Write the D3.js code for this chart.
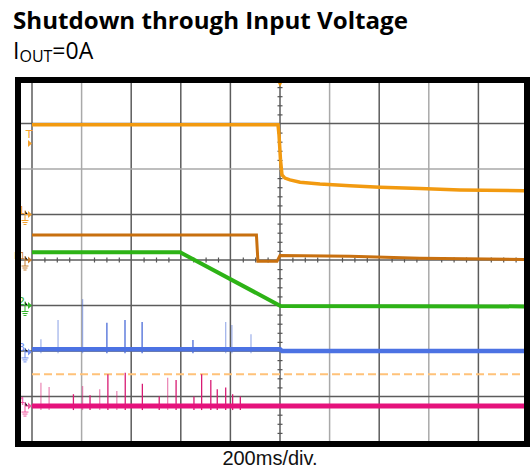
<!DOCTYPE html>
<html lang="en">
  <head>
    <meta charset="UTF-8" />
    <title>Shutdown through Input Voltage</title>
    <style>
      body { margin: 0; background: #fff; }
    </style>
  </head>
  <body>
    <div class="chart"></div>
    <script src="https://d3js.org/d3.v7.min.js"></script>
    <script>
      // data: time in ms (200ms/div), level in divisions from screen centre
      const gridTimes = [0, 200, 400, 600, 800, 1000, 1200, 1400, 1600, 1800, 2000];
      const gridLevels = [-4, -3, -2, -1, 0, 1, 2, 3, 4];
      const timeLabel = "200ms/div.";

      const vinTrace = [[0, 2.97], [992, 2.97], [996, 2.75], [1002, 2.2], [1008, 1.87], [1020, 1.8], [1040, 1.76], [1081, 1.71], [1161, 1.67], [1282, 1.63], [1403, 1.6], [1564, 1.57], [1726, 1.54], [2000, 1.52]];
      const ch1Trace = [[0, 0.55], [905, 0.55], [911, -0.03], [988, -0.03], [1000, 0.1], [1282, 0.08], [1564, 0.04], [2000, 0.01]];
      const ch2Trace = [[0, 0.17], [597, 0.17], [1002, -1.01], [2000, -1.02]];
      const ch3Trace = [[0, -1.96], [1000, -1.96], [1008, -2.0], [2000, -2.0]];
      const ch4Trace = [[0, -3.21], [2000, -3.21]];
      const trigLevel = -2.51;

      // spikes: [time, peak level, faint?]
      const ch3Spikes = [[36, -1.74, 1], [105, -1.32, 1], [204, -0.86, 1], [302, -1.38, 0], [375, -1.32, 0], [444, -1.36, 0], [649, -1.76, 0], [781, -1.36, 1], [806, -1.43, 1], [883, -1.63, 1]];
      const ch4Spikes = [[36, -2.7, 1], [69, -2.79, 1], [167, -2.95, 0], [204, -2.77, 1], [234, -2.97, 0], [273, -2.84, 1], [306, -2.51, 0], [342, -2.88, 1], [376, -2.48, 0], [445, -2.72, 0], [513, -3.0, 0], [547, -2.59, 1], [581, -2.64, 0], [653, -3.0, 0], [684, -2.51, 0], [721, -2.64, 0], [747, -2.84, 0], [781, -2.8, 0], [809, -2.95, 0], [840, -3.0, 0]];

      // channel markers on the left edge: [label, level, colour, ground]
      const markers = [["T", 2.56, "#f5a02a", false], ["1", 1.0, "#f0a030", true], ["R1", 0, "#c98032", true], ["2", -1.0, "#33b52a", true], ["3", -2.02, "#6f8ef0", true], ["4", -3.21, "#f0579f", true]];

      const W = 530, H = 472;
      const svg = d3.select(".chart").append("svg").attr("width", W).attr("height", H);

      // titles
      svg.append("text")
        .attr("x", 13).attr("y", 29)
        .attr("font-family", "Open Sans, sans-serif")
        .attr("font-weight", "bold")
        .attr("font-size", 23)
        .attr("textLength", 395)
        .attr("lengthAdjust", "spacingAndGlyphs")
        .attr("fill", "#000")
        .text("Shutdown through Input Voltage");

      const sub = svg.append("text")
        .attr("x", 13).attr("y", 59)
        .attr("font-family", "Open Sans, sans-serif")
        .attr("font-size", 23)
        .attr("fill", "#000");
      sub.append("tspan").text("I");
      sub.append("tspan").attr("font-size", 16).attr("dy", 3).text("OUT");
      sub.append("tspan").attr("dy", -3).text("=0A");

      // scope screen
      const x = d3.scaleLinear().domain([0, 2000]).range([32, 528]);
      const y = d3.scaleLinear().domain([-4, 4]).range([442, 78]);

      svg.append("clipPath").attr("id", "screen")
        .append("rect").attr("x", 21).attr("y", 83).attr("width", 503).attr("height", 358);

      const scr = svg.append("g").attr("clip-path", "url(#screen)");

      const lightT = [200, 1200, 1600];
      scr.selectAll(".vgrid").data(gridTimes).join("line")
        .attr("x1", d => x(d)).attr("x2", d => x(d))
        .attr("y1", 78).attr("y2", 442)
        .attr("stroke", d => lightT.includes(d) ? "#a9a9a9" : "#5c5c5c")
        .attr("stroke-width", 1.5);
      scr.selectAll(".hgrid").data(gridLevels).join("line")
        .attr("x1", 21).attr("x2", 528)
        .attr("y1", d => y(d)).attr("y2", d => y(d))
        .attr("stroke", d => d === 2 ? "#a9a9a9" : "#5c5c5c")
        .attr("stroke-width", 1.5);

      // minor ticks on centre lines
      const minorT = d3.range(0, 2001, 50).filter(d => d % 200 !== 0);
      const minorL = d3.range(-4, 4.001, 0.2).filter(d => Math.abs(d - Math.round(d)) > 0.01);
      scr.append("g")
        .attr("transform", `translate(0,${y(0) - 2.5})`)
        .call(d3.axisBottom(x).tickValues(minorT).tickSize(5).tickFormat(""))
        .call(g => g.select(".domain").remove())
        .selectAll("line").attr("stroke", "#555").attr("stroke-width", 1.2);
      scr.append("g")
        .attr("transform", `translate(${x(1000) + 2.5},0)`)
        .call(d3.axisLeft(y).tickValues(minorL).tickSize(5).tickFormat(""))
        .call(g => g.select(".domain").remove())
        .selectAll("line").attr("stroke", "#555").attr("stroke-width", 1.2);

      // trigger level
      scr.append("line")
        .attr("x1", x(0)).attr("x2", 528)
        .attr("y1", y(trigLevel)).attr("y2", y(trigLevel))
        .attr("stroke", "#ffc27a").attr("stroke-width", 2)
        .attr("stroke-dasharray", "8,4");

      const line = d3.line().x(d => x(d[0])).y(d => y(d[1]));

      function spikes(data, base, colour) {
        scr.selectAll(null).data(data).join("line")
          .attr("x1", d => x(d[0])).attr("x2", d => x(d[0]))
          .attr("y1", d => y(d[1])).attr("y2", y(base) + 4)
          .attr("stroke", colour)
          .attr("stroke-opacity", d => d[2] ? 0.5 : 1)
          .attr("stroke-width", 1.3);
      }

      spikes(ch4Spikes, ch4Trace[0][1], "#d81b73");
      scr.append("path").datum(ch4Trace).attr("d", line)
        .attr("fill", "none").attr("stroke", "#e5127c").attr("stroke-width", 5);

      spikes(ch3Spikes, ch3Trace[0][1], "#4a6bd8");
      scr.append("path").datum(ch3Trace).attr("d", line)
        .attr("fill", "none").attr("stroke", "#4c72e3").attr("stroke-width", 4.5);

      scr.append("path").datum(ch2Trace).attr("d", line)
        .attr("fill", "none").attr("stroke", "#2db316").attr("stroke-width", 4);

      scr.append("path").datum(ch1Trace).attr("d", line)
        .attr("fill", "none").attr("stroke", "#c8700f").attr("stroke-width", 3);

      scr.append("path").datum(vinTrace).attr("d", line)
        .attr("fill", "none").attr("stroke", "#f29a10").attr("stroke-width", 3.5);

      // trigger position mark at top
      scr.append("path")
        .attr("d", `M${x(1000) - 2},83 L${x(1000) + 2},83 L${x(1000)},87 Z`)
        .attr("fill", "#f29a10");

      // left markers
      const mk = svg.append("g").selectAll("g").data(markers).join("g")
        .attr("transform", d => `translate(0,${y(d[1])})`);
      mk.append("path")
        .attr("d", "M28,-3.5 L32,0 L28,3.5 Z")
        .attr("fill", d => d[2]);
      mk.append("text")
        .attr("x", d => d[0] === "T" ? 29 : 25)
        .attr("y", d => d[0] === "T" ? -6 : -1)
        .attr("text-anchor", d => d[0] === "T" ? "middle" : "end")
        .attr("font-family", "DejaVu Sans, sans-serif")
        .attr("font-size", d => d[0].length > 1 ? 8 : 11)
        .attr("fill", d => d[2])
        .text(d => d[0]);
      const gnd = mk.filter(d => d[3]).append("g").attr("stroke", d => d[2]).attr("stroke-width", 1);
      gnd.append("path").attr("d", "M25,-4 L25,0 L28,0 M25,0 L25,6 M21.5,6 L28.5,6 M22.5,8 L27.5,8 M23.5,10 L26.5,10");

      // frame
      svg.append("rect")
        .attr("x", 18).attr("y", 80).attr("width", 509).attr("height", 364)
        .attr("fill", "none").attr("stroke", "#000").attr("stroke-width", 6);

      svg.append("text")
        .attr("x", 270).attr("y", 465)
        .attr("text-anchor", "middle")
        .attr("font-family", "Liberation Sans, Arial, sans-serif")
        .attr("font-size", 20)
        .attr("fill", "#111")
        .text(timeLabel);
    </script>
  </body>
</html>
